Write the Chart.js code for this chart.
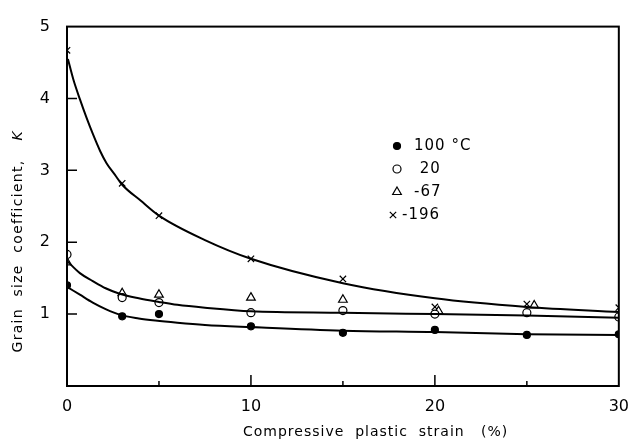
<!DOCTYPE html>
<html>
<head>
<meta charset="utf-8">
<script src="https://cdn.jsdelivr.net/npm/chart.js@4"></script>
<style>
  html, body { margin: 0; padding: 0; background: #fff; }
  #wrap { width: 640px; height: 446px; }
</style>
</head>
<body>
<div id="wrap"><canvas id="grainChart" width="640" height="446"></canvas></div>
<script>
// measured points, strain (%) vs K
const strain = [0, 3, 5, 10, 15, 20, 25, 30];
const k100 = [1.40, 0.97, 1.00, 0.83, 0.74, 0.78, 0.71, 0.72];
const k20 = [1.83, 1.23, 1.16, 1.02, 1.05, 1.00, 1.02, 0.96];
const strainM67 = [0, 3, 5, 10, 15, 20.2, 25.4, 30.3];
const kM67 = [1.72, 1.29, 1.27, 1.23, 1.20, 1.04, 1.12, 0.95];
const strainM196 = [0, 3, 5, 10, 15, 20, 25, 30];
const kM196 = [4.67, 2.82, 2.37, 1.77, 1.49, 1.10, 1.14, 1.09];

// hand drawn fitted curves
const curveX196 = [0.05, 0.35, 0.7, 1.05, 1.4, 1.8, 2.15, 2.6, 3, 4, 5, 7.5, 10, 15, 20, 25, 30];
const curveK196 = [4.55, 4.26, 3.99, 3.74, 3.51, 3.27, 3.10, 2.94, 2.80, 2.58, 2.37, 2.03, 1.77, 1.43, 1.22, 1.10, 1.03];
const curveX20 = [0, 0.7, 1.4, 2.1, 2.9, 3.9, 5, 6, 7.5, 10, 15, 20, 25, 30];
const curveK20 = [1.74, 1.57, 1.46, 1.36, 1.28, 1.22, 1.17, 1.13, 1.09, 1.04, 1.02, 1.00, 0.98, 0.95];
const curveX100 = [0, 0.7, 1.4, 2.1, 2.9, 3.9, 4.8, 6, 7.5, 10, 15, 20, 25, 30];
const curveK100 = [1.38, 1.27, 1.16, 1.07, 0.99, 0.94, 0.91, 0.88, 0.85, 0.82, 0.77, 0.75, 0.72, 0.71];

const legendLabels = ['100 \u00b0C', ' 20', '-67', '-196'];

const FONT = '"DejaVu Sans", sans-serif';

function pts(xs, ys) {
    return xs.map((x, i) => ({ x: x, y: ys[i] }));
}

function curve(xs, ys) {
    return {
        type: 'line',
        data: pts(xs, ys),
        borderColor: '#000',
        borderWidth: 2,
        pointRadius: 0,
        cubicInterpolationMode: 'monotone',
        fill: false
    };
}

// frame, inward ticks, legend and axis titles
const decorations = {
    id: 'decorations',
    afterDraw(chart) {
        const ctx = chart.ctx;
        const a = chart.chartArea;
        const xs = chart.scales.x;
        const ys = chart.scales.y;
        ctx.save();
        ctx.strokeStyle = '#000';
        ctx.lineWidth = 2;
        ctx.strokeRect(a.left, a.top, a.right - a.left, a.bottom - a.top);

        ctx.lineWidth = 1.5;
        ctx.beginPath();
        [1, 2, 3, 4].forEach(v => {
            const py = ys.getPixelForValue(v);
            ctx.moveTo(a.left, py);
            ctx.lineTo(a.left + 10, py);
        });
        [5, 10, 15, 20, 25].forEach(v => {
            const px = xs.getPixelForValue(v);
            ctx.moveTo(px, a.bottom);
            ctx.lineTo(px, a.bottom - (v % 10 === 0 ? 11 : 5));
        });
        ctx.stroke();

        // legend
        const rows = [146, 169, 192, 215];
        chart.data.datasets.filter(d => d.legendRow !== undefined).forEach(d => {
            const y = rows[d.legendRow];
            const x = d.legendRow === 3 ? 393 : 397;
            ctx.fillStyle = d.backgroundColor;
            ctx.strokeStyle = '#000';
            ctx.lineWidth = 1.2;
            Chart.helpers.drawPoint(ctx, {
                pointStyle: d.pointStyle,
                radius: d.pointRadius,
                rotation: 0,
                borderWidth: 1.2
            }, x, y);
            ctx.fillStyle = '#000';
            ctx.font = '15px ' + FONT;
            ctx.letterSpacing = '1px';
            ctx.textBaseline = 'middle';
            ctx.textAlign = 'left';
            ctx.fillText(legendLabels[d.legendRow], d.legendRow === 3 ? 402 : 414, y);
        });

        // x axis title
        ctx.font = '14px ' + FONT;
        ctx.letterSpacing = '1px';
        ctx.textAlign = 'left';
        ctx.textBaseline = 'middle';
        ctx.fillText('Compressive  plastic  strain   (%)', 243, 432);

        // y axis title
        ctx.translate(18, 0);
        ctx.rotate(-Math.PI / 2);
        ctx.textAlign = 'center';
        ctx.letterSpacing = '1.3px';
        ctx.fillText('Grain  size  coefficient,', -256, 0);
        ctx.font = 'italic 14px ' + FONT;
        ctx.letterSpacing = '0px';
        ctx.fillText('K', -136, 0);
        ctx.restore();
    }
};

const ctx = document.getElementById('grainChart').getContext('2d');
new Chart(ctx, {
    type: 'scatter',
    data: {
        datasets: [
            curve(curveX196, curveK196),
            curve(curveX20, curveK20),
            curve(curveX100, curveK100),
            {
                label: legendLabels[0], legendRow: 0,
                data: pts(strain, k100),
                pointStyle: 'circle', pointRadius: 3.5,
                backgroundColor: '#000', borderColor: '#000', borderWidth: 1.2
            },
            {
                label: legendLabels[1], legendRow: 1,
                data: pts(strain, k20),
                pointStyle: 'circle', pointRadius: 4,
                backgroundColor: '#fff', borderColor: '#000', borderWidth: 1.2
            },
            {
                label: legendLabels[2], legendRow: 2,
                data: pts(strainM67, kM67),
                pointStyle: 'triangle', pointRadius: 5,
                backgroundColor: '#fff', borderColor: '#000', borderWidth: 1.2
            },
            {
                label: legendLabels[3], legendRow: 3,
                data: pts(strainM196, kM196),
                pointStyle: 'crossRot', pointRadius: 4.5,
                backgroundColor: '#fff', borderColor: '#000', borderWidth: 1.2
            }
        ]
    },
    options: {
        responsive: false,
        animation: false,
        layout: { padding: { left: 0, right: 14, top: 19, bottom: 0 } },
        plugins: { legend: { display: false }, tooltip: { enabled: false } },
        scales: {
            x: {
                type: 'linear', min: 0, max: 30,
                grid: { display: false, drawTicks: false },
                border: { display: false },
                ticks: {
                    stepSize: 5, padding: 11, color: '#000',
                    font: { family: FONT, size: 16 },
                    callback: v => (v % 10 === 0 ? v : '')
                },
                afterFit: s => { s.height = 60; }
            },
            y: {
                type: 'linear', min: 0, max: 5,
                grid: { display: false, drawTicks: false },
                border: { display: false },
                ticks: {
                    stepSize: 1, padding: 17, color: '#000',
                    font: { family: FONT, size: 16 },
                    callback: v => (v === 0 ? '' : v)
                },
                afterFit: s => { s.width = 67; }
            }
        }
    },
    plugins: [decorations]
});
</script>
</body>
</html>
